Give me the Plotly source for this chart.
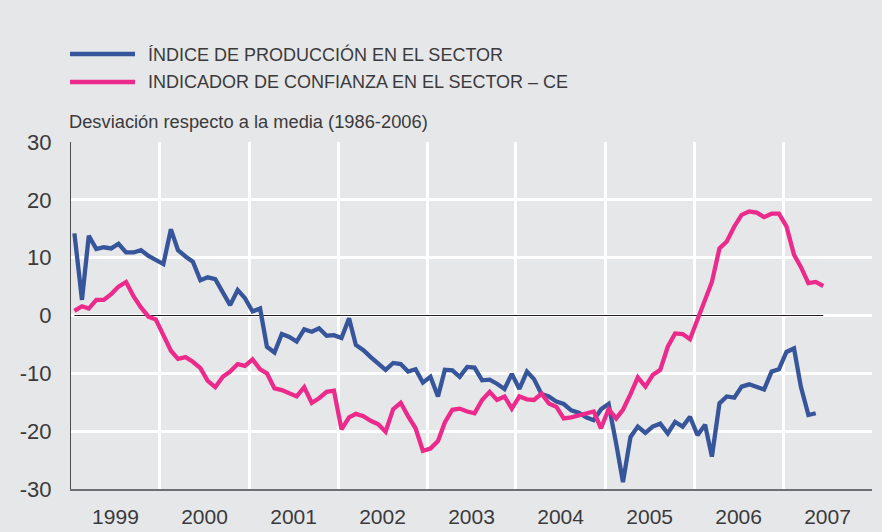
import pandas as pd
import plotly.graph_objects as go

# Monthly data, Jan 1999 onwards
produccion = [
    14.2, 2.7, 13.8, 11.5, 11.8, 11.6, 12.4, 10.9, 10.9, 11.3, 10.3, 9.6,      # 1999
    8.9, 14.9, 11.3, 10.2, 9.3, 6.1, 6.6, 6.3, 4.1, 1.8, 4.4, 3.0,             # 2000
    0.7, 1.2, -5.4, -6.4, -3.2, -3.7, -4.5, -2.4, -2.8, -2.2, -3.5, -3.4,      # 2001
    -3.9, -0.5, -5.1, -6.0, -7.2, -8.4, -9.4, -8.2, -8.4, -9.7, -9.3, -11.6,   # 2002
    -10.6, -14.0, -9.4, -9.5, -10.6, -8.9, -9.0, -11.2, -11.1, -11.8, -12.7, -10.1,  # 2003
    -12.7, -9.7, -11.0, -13.6, -14.0, -14.9, -15.3, -16.4, -16.8, -17.6, -18.1, -16.2,  # 2004
    -15.3, -22.1, -28.8, -21.0, -19.2, -20.3, -19.2, -18.7, -20.4, -18.4, -19.2, -17.5,  # 2005
    -20.7, -18.9, -24.4, -15.2, -14.0, -14.2, -12.3, -11.9, -12.3, -12.8, -9.7, -9.3,  # 2006
    -6.3, -5.7, -12.3, -17.2, -16.9,                                           # 2007
]
confianza = [
    0.8, 1.6, 1.2, 2.7, 2.7, 3.7, 5.0, 5.8, 3.3, 1.4, -0.2, -0.7,             # 1999
    -3.4, -6.1, -7.5, -7.2, -8.0, -9.1, -11.3, -12.4, -10.6, -9.7, -8.4, -8.7,  # 2000
    -7.6, -9.3, -10.0, -12.6, -12.9, -13.4, -14.0, -12.4, -15.1, -14.3, -13.2, -13.0,  # 2001
    -19.7, -17.6, -17.0, -17.4, -18.2, -18.8, -20.1, -16.2, -15.1, -17.4, -19.5, -23.4,  # 2002
    -23.0, -21.7, -18.5, -16.3, -16.1, -16.6, -16.9, -14.6, -13.2, -14.6, -14.0, -16.1,  # 2003
    -14.0, -14.5, -14.6, -13.5, -15.2, -15.8, -17.8, -17.6, -17.2, -17.0, -16.6, -19.5,  # 2004
    -16.2, -17.8, -16.3, -13.6, -10.7, -12.3, -10.3, -9.4, -5.4, -3.1, -3.2, -4.1,  # 2005
    -0.8, 3.0, 5.8, 11.6, 12.8, 15.4, 17.4, 18.0, 17.8, 17.0, 17.6, 17.6,     # 2006
    15.4, 10.5, 8.4, 5.6, 5.8, 5.1,                                            # 2007
]
serie_produccion = "ÍNDICE DE PRODUCCIÓN EN EL SECTOR"
serie_confianza = "INDICADOR DE CONFIANZA EN EL SECTOR – CE"
subtitulo = "Desviación respecto a la media (1986-2006)"
y_ticks = [-30, -20, -10, 0, 10, 20, 30]
y_tick_labels = ["-30", "-20", "-10", "0", "10", "20", "30"]

def month_dates(n):
    return pd.date_range("1999-01-01", periods=n, freq="MS") + pd.Timedelta(days=14)

x_prod = month_dates(len(produccion))
x_conf = month_dates(len(confianza))

BLUE = "#36559b"
PINK = "#ec2a8b"
BG = "#e6e7e8"
TXT = "#3a3a3c"
FONT = "Liberation Sans, Arial, sans-serif"

W, H = 882, 532
ML, MR, MT, MB = 71, 10, 142, 43
PW, PH = W - ML - MR, H - MT - MB

def px_x(x):
    return (x - ML) / PW

def px_y(y):
    return (H - MB - y) / PH

fig = go.Figure()
# zero reference line spanning the data period
fig.add_trace(go.Scatter(x=x_conf, y=[0] * len(confianza), mode="lines",
                         line=dict(color="#231f20", width=1.2),
                         hoverinfo="skip", showlegend=False))
fig.add_trace(go.Scatter(x=x_prod, y=produccion, mode="lines", name=serie_produccion,
                         line=dict(color=BLUE, width=4.3), showlegend=False))
fig.add_trace(go.Scatter(x=x_conf, y=confianza, mode="lines", name=serie_confianza,
                         line=dict(color=PINK, width=4.3), showlegend=False))

# manual legend
legend_items = [(serie_produccion, BLUE, 54), (serie_confianza, PINK, 82)]
for text, color, ypx in legend_items:
    fig.add_shape(type="line", xref="paper", yref="paper",
                  x0=px_x(70), x1=px_x(135), y0=px_y(ypx), y1=px_y(ypx),
                  line=dict(color=color, width=4.5))
    fig.add_annotation(text=text, xref="paper", yref="paper",
                       x=px_x(146), y=px_y(ypx),
                       xanchor="left", yanchor="middle", showarrow=False,
                       font=dict(family=FONT, size=18, color=TXT))

fig.add_annotation(text=subtitulo, xref="paper", yref="paper",
                   x=px_x(67), y=px_y(121),
                   xanchor="left", yanchor="middle", showarrow=False,
                   font=dict(family=FONT, size=18.3, color=TXT))

fig.update_layout(
    width=W, height=H,
    margin=dict(l=ML, r=MR, t=MT, b=MB, autoexpand=False),
    paper_bgcolor=BG, plot_bgcolor=BG,
    font=dict(family=FONT, color=TXT),
    showlegend=False,
)
fig.update_xaxes(
    type="date", range=["1999-01-01", "2008-01-01"],
    dtick="M12", tick0="1999-01-01", tickformat="%Y", ticklabelmode="period",
    showgrid=True, gridcolor="white", gridwidth=2.5,
    showline=True, linecolor="#6d6e71", linewidth=1.5,
    ticks="", ticklabelstandoff=8, automargin=False,
    tickfont=dict(family=FONT, size=21, color=TXT),
    zeroline=False,
)
fig.update_yaxes(
    range=[-30, 30], tickvals=y_ticks, ticktext=y_tick_labels,
    showgrid=True, gridcolor="white", gridwidth=2.5,
    showline=True, linecolor="#4d4d4f", linewidth=1.2,
    ticks="", ticklabelstandoff=14, automargin=False,
    tickfont=dict(family=FONT, size=22, color=TXT),
    zeroline=False,
)

fig.write_html(
    "out.html",
    config={"displayModeBar": False},
    post_script="document.body.style.margin='0px';document.body.style.padding='0px';"
                "document.body.style.overflow='hidden';document.body.style.background='%s';" % BG,
)
